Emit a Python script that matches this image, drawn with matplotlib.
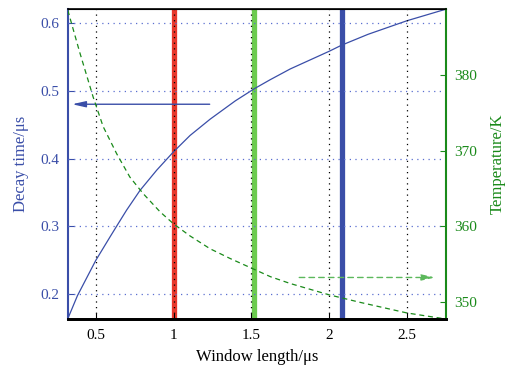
import matplotlib
matplotlib.use("Agg")
import matplotlib.pyplot as plt

plt.rcParams['font.family'] = ['Liberation Serif', 'DejaVu Serif']

# Data
win_len = [0.32, 0.382, 0.5, 0.59, 0.633, 0.698, 0.784, 0.892, 1.0, 1.106, 1.235,
           1.397, 1.52, 1.62, 1.75, 2.0, 2.08, 2.25, 2.5, 2.75]
decay = [0.164, 0.198, 0.250, 0.284, 0.300, 0.324, 0.353, 0.383, 0.410, 0.434, 0.458,
         0.485, 0.503, 0.516, 0.532, 0.558, 0.567, 0.583, 0.603, 0.62]

temp_x = [0.32, 0.397, 0.483, 0.547, 0.634, 0.719, 0.805, 0.913, 1.0, 1.106, 1.235,
          1.365, 1.494, 1.623, 1.75, 2.0, 2.2, 2.5, 2.75]
temp_y = [388.6, 383.0, 377.1, 373.2, 369.6, 366.5, 364.3, 361.9, 360.3, 358.7, 357.0,
          355.7, 354.5, 353.3, 352.4, 350.9, 349.9, 348.5, 347.7]

marker_x = [1.0, 1.52, 2.08]
marker_colors = ['#e8382c', '#6ccb4f', '#3a4ea8']

xticks = [0.5, 1, 1.5, 2, 2.5]
xticklabels = ['0.5', '1', '1.5', '2', '2.5']
yticks_left = [0.2, 0.3, 0.4, 0.5, 0.6]
yticklabels_left = ['0.2', '0.3', '0.4', '0.5', '0.6']
yticks_right = [350, 360, 370, 380]

blue = '#3a4ea8'
green = '#1a8a1a'
lightgreen = '#5cb85c'

fig = plt.figure(figsize=(5.06, 3.72), dpi=100)
ax = fig.add_axes([0.134, 0.1425, 0.747, 0.834])
ax2 = ax.twinx()

ax.set_xlim(0.32, 2.75)
ax.set_ylim(0.1636, 0.6207)
ax2.set_ylim(347.7, 388.8)

for xv, c in zip(marker_x, marker_colors):
    ax.axvline(xv, color=c, lw=3.8, zorder=1.5)

ax.plot(win_len, decay, color=blue, lw=0.9, zorder=2)
ax.annotate('', xy=(0.33, 0.48), xytext=(1.25, 0.48),
            arrowprops=dict(arrowstyle='-|>,head_length=0.8,head_width=0.18', color=blue, lw=1.0))

ax2.plot(temp_x, temp_y, color=green, lw=0.9, ls=(0, (4, 3)))
ax2.annotate('', xy=(2.70, 353.2), xytext=(1.79, 353.2),
             arrowprops=dict(arrowstyle='-|>,head_length=0.8,head_width=0.18', color=lightgreen,
                             lw=1.0, ls=(0, (4, 3))))

# grids
for yv in yticks_left:
    ax.axhline(yv, color='#5a6fd0', lw=0.9, ls=(0, (1, 3.5)), zorder=2.6)
for xv in xticks:
    ax.axvline(xv, color='black', lw=0.9, ls=(0, (1, 3.5)), zorder=2.6)

ax.set_xticks(xticks)
ax.set_xticklabels(xticklabels)
ax.set_yticks(yticks_left)
ax.set_yticklabels(yticklabels_left)
ax2.set_yticks(yticks_right)

ax.tick_params(axis='x', direction='in', length=4, labelsize=11, pad=7, colors='black')
ax.tick_params(axis='y', direction='in', length=4, labelsize=11, colors=blue, pad=6)
ax2.tick_params(axis='y', direction='in', length=4, labelsize=11, colors=green, pad=6)

ax.set_xlabel('Window length/μs', fontsize=12, labelpad=5)
ax.set_ylabel('Decay time/μs', fontsize=12, color=blue, labelpad=8)
ax2.set_ylabel('Temperature/K', fontsize=12, color=green, labelpad=9)

ax.spines['left'].set_color(blue)
ax.spines['left'].set_linewidth(1.5)
ax2.spines['left'].set_visible(False)
ax2.spines['right'].set_color(green)
ax2.spines['right'].set_linewidth(1.5)
ax.spines['right'].set_visible(False)
ax2.spines['bottom'].set_linewidth(2.0)
ax2.spines['top'].set_linewidth(1.2)
ax.spines['bottom'].set_linewidth(2.0)

fig.savefig('out.png', dpi=100)
